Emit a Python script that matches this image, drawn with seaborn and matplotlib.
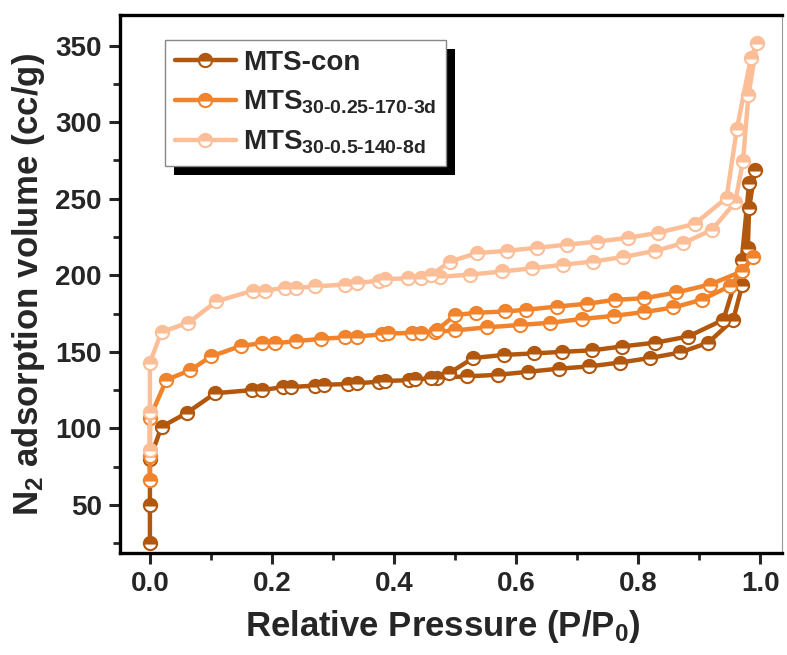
import numpy as np
import pandas as pd
import matplotlib
matplotlib.use("Agg")
import matplotlib.pyplot as plt
import seaborn as sns
from matplotlib.patches import Rectangle
from matplotlib.transforms import IdentityTransform
from matplotlib.ticker import MultipleLocator

# N2 adsorption / desorption isotherms (adsorption branch followed by desorption branch)
con_x = [0.0, 0.0, 0.0, 0.019, 0.06, 0.107, 0.167, 0.183, 0.218, 0.232, 0.27, 0.285,
         0.325, 0.34, 0.375, 0.385, 0.425, 0.435, 0.47, 0.52, 0.57, 0.62, 0.67, 0.72,
         0.77, 0.82, 0.869, 0.915, 0.956, 0.971, 0.98, 0.982, 0.992,
         0.982, 0.97, 0.94, 0.882, 0.828, 0.773, 0.725, 0.675, 0.63, 0.58, 0.53, 0.49, 0.46]
con_y = [25, 50, 80, 101, 110, 123, 125, 125, 127, 127, 128, 128.5,
         129, 129.5, 130.5, 131, 131.5, 132, 133, 134, 135, 137, 139, 140.5,
         143, 146, 149.6, 156, 171, 194, 218, 244, 269,
         260, 210, 171, 160, 156, 153.5, 151, 150, 149, 148, 146, 136, 133]

mid_x = [0.0, 0.0, 0.0, 0.027, 0.066, 0.1, 0.15, 0.183, 0.205, 0.24, 0.28, 0.32, 0.34,
         0.38, 0.39, 0.43, 0.445, 0.467, 0.50, 0.552, 0.607, 0.656, 0.708, 0.76, 0.81,
         0.858, 0.904, 0.951, 0.989,
         0.97, 0.918, 0.863, 0.81, 0.762, 0.716, 0.667, 0.617, 0.582, 0.534, 0.50, 0.47]
mid_y = [66, 82, 107, 131.7, 138, 147, 154, 155.6, 155.6, 157, 158.5, 159.5, 160,
         161.5, 162, 162.4, 162.5, 163, 164, 166, 167.6, 169, 171.5, 173.5, 176,
         179, 184, 193, 212,
         202.5, 194, 188.8, 185, 184, 181.4, 179.6, 177.5, 176.4, 175.5, 174, 164]

lit_x = [0.0, 0.0, 0.0, 0.019, 0.063, 0.109, 0.169, 0.188, 0.221, 0.24, 0.27, 0.32, 0.34,
         0.375, 0.385, 0.423, 0.445, 0.475, 0.525, 0.577, 0.626, 0.677, 0.726, 0.776,
         0.828, 0.874, 0.921, 0.959, 0.972, 0.981, 0.995,
         0.985, 0.962, 0.945, 0.893, 0.833, 0.784, 0.732, 0.683, 0.634, 0.585, 0.536, 0.492, 0.46]
lit_y = [86, 111, 143, 163, 169, 183, 190, 190, 191.8, 191.8, 192.7, 194, 195,
         196.5, 197.6, 198, 198, 199, 200.5, 202.5, 204.6, 206.9, 209, 212,
         216, 221, 229.7, 247.6, 274.4, 318, 352,
         342, 295.6, 250.6, 233.6, 227.8, 224.5, 222, 220, 218, 216, 214.5, 209, 200]

labels = ["MTS-con",
          r"MTS$_{\text{30-0.25-170-3d}}$",
          r"MTS$_{\text{30-0.5-140-8d}}$"]
colors = ["#B2570E", "#F0832B", "#FCBE97"]

sns.set_theme(style="ticks")
plt.rcParams["font.family"] = ["Liberation Sans", "DejaVu Sans"]
plt.rcParams["font.weight"] = "bold"
plt.rcParams["mathtext.fontset"] = "custom"
plt.rcParams["mathtext.rm"] = "Liberation Sans:bold"
plt.rcParams["mathtext.it"] = "Liberation Sans:bold"
plt.rcParams["mathtext.bf"] = "Liberation Sans:bold"

fig = plt.figure(figsize=(7.87, 6.55), dpi=100)
ax = fig.add_axes([0.1525, 0.1557, 0.8412, 0.8213])

for xs, ys, c, lab in zip([con_x, mid_x, lit_x], [con_y, mid_y, lit_y], colors, labels):
    df = pd.DataFrame({"p": xs, "v": ys})
    sns.lineplot(data=df, x="p", y="v", sort=False, estimator=None, ax=ax,
                 color=c, linewidth=3.2, marker="o", markersize=9.5,
                 fillstyle="top", markerfacecoloralt="white",
                 markeredgecolor=c, markeredgewidth=1.5, label=lab)

ax.set_xlim(-0.049, 1.036)
ax.set_ylim(18.6, 370)
ax.xaxis.set_minor_locator(MultipleLocator(0.1))
ax.yaxis.set_minor_locator(MultipleLocator(25))
ax.set_yticks([50, 100, 150, 200, 250, 300, 350])
ax.set_xticks([0.0, 0.2, 0.4, 0.6, 0.8, 1.0])
ax.set_xticklabels(["0.0", "0.2", "0.4", "0.6", "0.8", "1.0"])

ax.tick_params(which="major", direction="out", length=8, width=2.2, labelsize=20, pad=5)
ax.tick_params(which="minor", direction="out", length=5, width=2.0)
for lab in ax.get_xticklabels() + ax.get_yticklabels():
    lab.set_fontweight("bold")
for s in ["left", "bottom", "top"]:
    ax.spines[s].set_linewidth(2.4)
    ax.spines[s].set_color("black")
ax.spines["right"].set_linewidth(0.8)
ax.spines["right"].set_color("#999999")

ax.set_xlabel("Relative Pressure (P/P$_0$)", fontsize=25, fontweight="bold", labelpad=8)
ax.xaxis.label.set_x(0.488)
ax.set_ylabel("N$_2$ adsorption volume (cc/g)", fontsize=25, fontweight="bold", labelpad=6)

leg = ax.legend(loc="upper left", bbox_to_anchor=(0.068, 0.9535), borderaxespad=0,
                fontsize=20, frameon=True, fancybox=False, edgecolor="#888888",
                framealpha=1, handlelength=2.2, labelspacing=0.45, borderpad=0.35,
                handletextpad=0.25)
leg.get_frame().set_linewidth(1.0)
leg.set_zorder(6)

fig.canvas.draw()
bb = leg.get_window_extent()
shadow = Rectangle((bb.x0 + 9, bb.y0 - 9), bb.width, bb.height,
                   facecolor="black", edgecolor="none", zorder=5)
shadow.set_transform(IdentityTransform())
ax.add_artist(shadow)

fig.savefig("out.png", dpi=100)
